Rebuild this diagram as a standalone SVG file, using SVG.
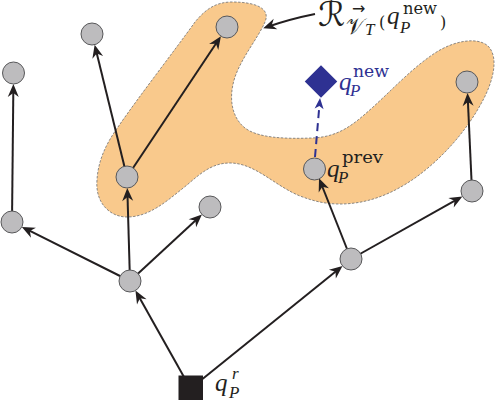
<svg xmlns="http://www.w3.org/2000/svg" width="498" height="401" viewBox="0 0 498 401">
<style>
.node{fill:#BDBCBE;stroke:#58585A;stroke-width:1}
.edge{fill:none;stroke:#231F20;stroke-width:2}
.mi{font-family:"Liberation Serif","DejaVu Serif",serif;font-style:italic;font-size:25px;fill:#231F20}
.ms{font-family:"Liberation Serif","DejaVu Serif",serif;font-style:italic;font-size:17px;fill:#231F20}
.rm{font-family:"DejaVu Serif","Liberation Serif",serif;font-size:16px;fill:#231F20}
.blue{fill:#2E3192}
</style>
<defs>
<marker id="ah" viewBox="-14 -7 15 14" markerWidth="15" markerHeight="14" refX="-4" refY="0" orient="auto" markerUnits="userSpaceOnUse">
<path d="M0,0 L-13,-5.5 L-9,0 L-13,5.5 Z" fill="#231F20"/>
</marker>
<marker id="ahb" viewBox="-14 -7 15 14" markerWidth="15" markerHeight="14" refX="-4" refY="0" orient="auto" markerUnits="userSpaceOnUse">
<path d="M0,0 L-11,-4.5 L-8,0 L-11,4.5 Z" fill="#2E3192"/>
</marker>
</defs>
<g id="region">
<path d="M97,180 C95,203 110,217 127,217 C150,217 168,200 187,185 C202,172 213,163 230,163 C255,163 275,186 300,196 C313,201 325,204 340,204 C370,204 395,192 415,178 C443,158 467,130 482,102 C492,84 500,58 488,46 C478,37 455,40 435,53 C412,68 392,90 372,108 C355,123 340,137 312,138 C285,139 258,138 245,128 C230,116 229,95 235,77 C242,57 258,38 265,22 C271,8 255,2 232,2 C215,2 205,10 195,22 C175,50 140,95 118,127 C105,145 98,162 97,180 Z" fill="#F9C98C" stroke="#6D6E71" stroke-width="0.8" stroke-dasharray="2.5 1.5"/>
</g>
<g id="connectors">
<line class="edge" x1="184" y1="377" x2="137.4" y2="294" marker-end="url(#ah)"/>
<line class="edge" x1="200" y1="381" x2="339.4" y2="268.5" marker-end="url(#ah)"/>
<line class="edge" x1="130" y1="281" x2="25.4" y2="228.7" marker-end="url(#ah)"/>
<line class="edge" x1="130" y1="281" x2="127.4" y2="192" marker-end="url(#ah)"/>
<line class="edge" x1="130" y1="281" x2="199" y2="217.2" marker-end="url(#ah)"/>
<line class="edge" x1="12" y1="222" x2="13.35" y2="88" marker-end="url(#ah)"/>
<line class="edge" x1="127" y1="177" x2="95.6" y2="48.6" marker-end="url(#ah)"/>
<line class="edge" x1="127" y1="177" x2="218.7" y2="39.5" marker-end="url(#ah)"/>
<line class="edge" x1="351" y1="259" x2="320.5" y2="182" marker-end="url(#ah)"/>
<line class="edge" x1="351" y1="259" x2="458.9" y2="198.4" marker-end="url(#ah)"/>
<line class="edge" x1="472" y1="191" x2="467.7" y2="97" marker-end="url(#ah)"/>
<line x1="315" y1="157" x2="319.7" y2="102" fill="none" stroke="#2E3192" stroke-width="2" stroke-dasharray="8 5" marker-end="url(#ahb)"/>
<path class="edge" d="M315,14 Q290,19 267,27" stroke-width="1.5" marker-end="url(#ah)"/>
</g>
<g id="nA"><circle class="node" cx="13.5" cy="73" r="11"/></g>
<g id="nB"><circle class="node" cx="92" cy="34" r="11"/></g>
<g id="nC"><circle class="node" cx="227" cy="27" r="11"/></g>
<g id="nD"><circle class="node" cx="127" cy="177" r="11"/></g>
<g id="nE"><circle class="node" cx="12" cy="222" r="11"/></g>
<g id="nF"><circle class="node" cx="210" cy="207" r="11"/></g>
<g id="nG"><circle class="node" cx="130" cy="281" r="11"/></g>
<g id="nH"><circle class="node" cx="351" cy="259" r="11"/></g>
<g id="nI"><circle class="node" cx="472" cy="191" r="11"/></g>
<g id="nJ"><circle class="node" cx="467" cy="82" r="11"/></g>
<g id="nPrev">
<circle class="node" cx="314.5" cy="169" r="11"/>
<text class="mi" x="327" y="177">q</text>
<text class="rm" x="342" y="163" textLength="41" lengthAdjust="spacingAndGlyphs">prev</text>
<text class="ms" x="338" y="183">P</text>
</g>
<g id="nNew">
<rect x="309.5" y="70" width="23" height="23" transform="rotate(45 321 81.5)" fill="#2E3192"/>
<text class="mi blue" x="339" y="90">q</text>
<text class="rm blue" x="353" y="77" textLength="36" lengthAdjust="spacingAndGlyphs">new</text>
<text class="ms blue" x="350" y="96">P</text>
</g>
<g id="nRoot">
<rect x="178.5" y="375.5" width="24.5" height="24.5" fill="#231F20"/>
<text class="mi" x="215" y="391">q</text>
<text class="ms" x="232" y="379" font-size="14">r</text>
<text class="ms" x="229" y="398">P</text>
</g>
<g id="label">
<text x="318" y="26" font-family="DejaVu Serif, DejaVu Sans, serif" font-size="34" fill="#231F20">ℛ</text>
<text x="352" y="14" font-family="DejaVu Sans, sans-serif" font-size="16" fill="#231F20">→</text>
<text x="346" y="34" font-family="DejaVu Serif, DejaVu Sans, serif" font-size="22" fill="#231F20">𝒱</text>
<text class="ms" x="365" y="35" font-size="11">T</text>
<text class="rm" x="379" y="28" font-size="26" font-family="Liberation Serif, serif">(</text>
<text class="mi" x="387" y="24">q</text>
<text class="rm" x="403" y="14" textLength="34" lengthAdjust="spacingAndGlyphs">new</text>
<text class="ms" x="400" y="33">P</text>
<text class="rm" x="440" y="28" font-size="26" font-family="Liberation Serif, serif">)</text>
</g>
</svg>
